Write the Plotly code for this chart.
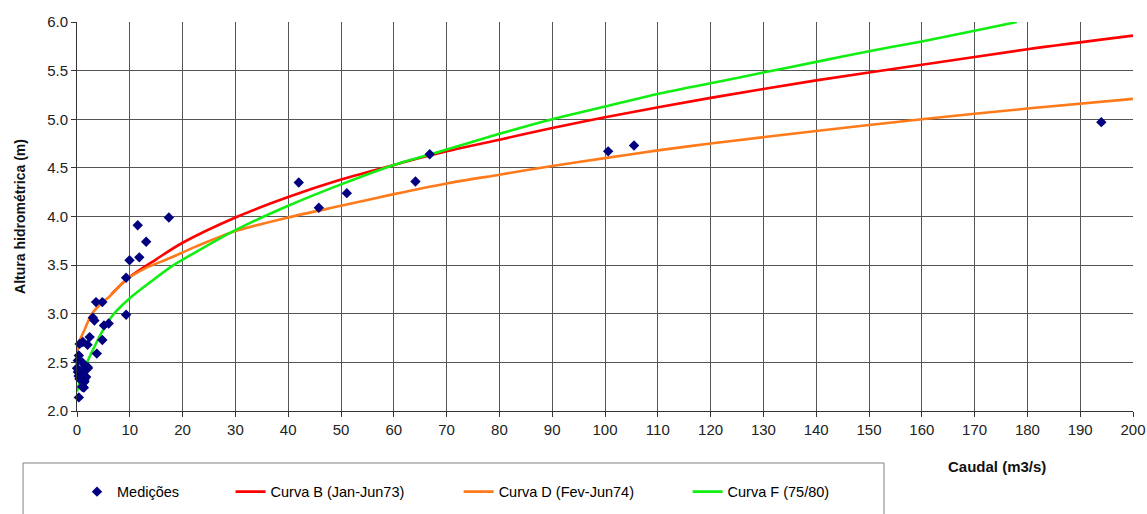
import plotly.graph_objects as go

# Medições (caudal m3/s, altura m)
med_q = [194.0, 105.5, 100.6, 66.8, 64.1, 51.1, 45.8, 42.0, 17.4, 11.5,
         13.1, 11.8, 9.95, 9.3, 9.3, 3.6, 4.8, 3.0, 3.3, 5.1,
         6.0, 2.4, 4.8, 0.5, 1.1, 2.0, 3.75, 0.35, 0.15, 1.0,
         2.05, 1.6, 1.4, 1.1, 0.35, 0.0, 0.16, 0.79, 1.1, 1.74,
         0.47, 1.1, 1.42, 0.98, 1.3, 2.05, 0.6, 0.3]
med_h = [4.97, 4.73, 4.67, 4.64, 4.36, 4.24, 4.09, 4.35, 3.99, 3.91,
         3.74, 3.58, 3.55, 3.37, 2.99, 3.12, 3.12, 2.96, 2.93, 2.88,
         2.90, 2.76, 2.73, 2.69, 2.71, 2.68, 2.59, 2.57, 2.52, 2.50,
         2.44, 2.46, 2.32, 2.25, 2.14, 2.44, 2.40, 2.37, 2.385, 2.35,
         2.33, 2.32, 2.30, 2.25, 2.24, 2.45, 2.41, 2.36]

# Curva B (Jan-Jun73)
curva_b_q = [6.5, 10, 15, 20, 30, 40, 50, 60, 70, 80, 90, 100, 120, 140, 160, 180, 200]
curva_b_h = [3.20, 3.38, 3.56, 3.73, 3.99, 4.20, 4.38, 4.53, 4.67, 4.79, 4.91, 5.02,
             5.22, 5.40, 5.56, 5.72, 5.86]

# Curva D (Fev-Jun74)
curva_d_q = [0, 0.5, 1.4, 2.7, 4.3, 6.2, 9.3, 13, 17.5, 22.5, 30, 40, 50, 60, 70,
             80, 90, 100, 110, 120, 140, 160, 180, 200]
curva_d_h = [2.60, 2.72, 2.83, 2.99, 3.09, 3.18, 3.35, 3.47, 3.57, 3.69, 3.85, 3.99,
             4.11, 4.23, 4.34, 4.43, 4.52, 4.60, 4.68, 4.75, 4.88, 5.00, 5.11, 5.21]

# Curva F (75/80)
curva_f_q = [0, 1, 2.5, 5, 7, 10, 14, 18, 23, 30, 40, 50, 60, 67, 80, 90, 100,
             110, 120, 130, 140, 150, 160, 170, 178]
curva_f_h = [2.20, 2.38, 2.57, 2.84, 3.00, 3.16, 3.33, 3.49, 3.65, 3.86, 4.11, 4.33,
             4.53, 4.64, 4.85, 5.00, 5.13, 5.26, 5.37, 5.48, 5.59, 5.70, 5.80, 5.91, 6.00]

x_ticks = list(range(0, 201, 10))
y_ticks = [2.0, 2.5, 3.0, 3.5, 4.0, 4.5, 5.0, 5.5, 6.0]

FONT = "Liberation Sans, Arial, sans-serif"

fig = go.Figure()

fig.add_trace(go.Scatter(x=curva_b_q, y=curva_b_h, mode="lines", name="Curva B (Jan-Jun73)",
                         line=dict(color="#FF0000", width=2.6, shape="spline", smoothing=0.8),
                         legend="legend2"))
fig.add_trace(go.Scatter(x=curva_d_q, y=curva_d_h, mode="lines", name="Curva D (Fev-Jun74)",
                         line=dict(color="#FF7A1A", width=2.6, shape="spline", smoothing=0.8),
                         legend="legend3"))
fig.add_trace(go.Scatter(x=curva_f_q, y=curva_f_h, mode="lines", name="Curva F (75/80)",
                         line=dict(color="#11EE11", width=2.6, shape="spline", smoothing=0.8),
                         legend="legend4"))
fig.add_trace(go.Scatter(x=med_q, y=med_h, mode="markers", name="Medições",
                         marker=dict(symbol="diamond", color="#000080", size=8),
                         cliponaxis=False, legend="legend"))

legend_common = dict(orientation="h", yanchor="middle", xanchor="left", y=-0.2075,
                     bgcolor="rgba(0,0,0,0)", borderwidth=0,
                     font=dict(family=FONT, size=14.5, color="#000000"))

# legend frame: left, top and right edges, running down to the bottom of the figure
bottom = -103 / 389
frame_path = (f"M -0.0511,{bottom} L -0.0511,-0.1337 L 0.7642,-0.1337 "
              f"L 0.7642,{bottom}")

fig.update_layout(
    width=1147, height=514,
    margin=dict(l=77, r=14, t=22, b=103, autoexpand=False),
    paper_bgcolor="white", plot_bgcolor="white",
    font=dict(family=FONT, size=15, color="#222222"),
    showlegend=True,
    legend=dict(x=0.0, **legend_common),
    legend2=dict(x=0.1454, **legend_common),
    legend3=dict(x=0.3614, **legend_common),
    legend4=dict(x=0.5782, **legend_common),
    xaxis=dict(range=[0, 200], tickvals=x_ticks, showgrid=True, gridcolor="#555555",
               gridwidth=1, showline=True, linecolor="#333333", linewidth=1,
               ticks="outside", ticklen=5, tickcolor="#333333", zeroline=False,
               tickfont=dict(family=FONT, size=15, color="#222222")),
    yaxis=dict(range=[2, 6], tickvals=y_ticks, tickformat=".1f", showgrid=True,
               gridcolor="#555555", gridwidth=1, showline=True, linecolor="#333333",
               linewidth=1, ticks="outside", ticklen=5, tickcolor="#333333", zeroline=False,
               tickfont=dict(family=FONT, size=15, color="#222222"),
               title=dict(text="<b>Altura hidrométrica (m)</b>", standoff=18,
                          font=dict(family=FONT, size=14, color="#111111"))),
    shapes=[dict(type="path", xref="paper", yref="paper", path=frame_path,
                 line=dict(color="#808080", width=1), layer="below")],
    annotations=[dict(text="<b>Caudal (m3/s)</b>", xref="paper", yref="paper",
                      x=0.871, y=-0.1414, xanchor="center", yanchor="middle",
                      showarrow=False, font=dict(family=FONT, size=15, color="#111111"))],
)

fig.write_html("out.html")
